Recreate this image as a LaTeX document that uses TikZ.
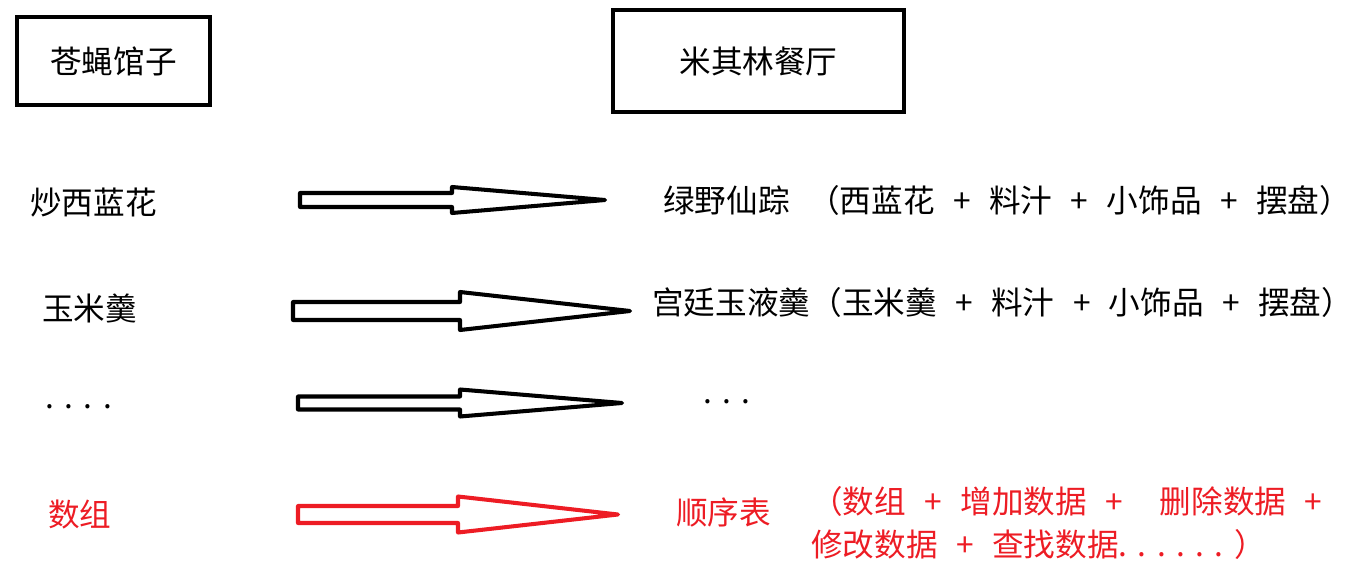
\documentclass[tikz,border=0pt]{standalone}
\usepackage{fontspec}
\setmainfont{Noto Sans CJK SC}[WordSpace=2.6]
\definecolor{paintred}{HTML}{ED1C24}
\newcommand{\dotk}{.\kern0.33em}
\tikzstyle{box}=[draw,line width=2.8pt,inner sep=0pt]
\tikzstyle{dish}=[anchor=west,inner sep=0pt,font=\fontsize{18}{24.4}\selectfont]
\tikzstyle{fat}=[draw,line width=2.3pt,line join=round]

\begin{document}
\begin{tikzpicture}[x=0.02cm,y=-0.02cm]
    \useasboundingbox (0,0) rectangle (1352,581);
    % titres
    \node[box,minimum width=3.86cm,minimum height=1.76cm] (fly) at (113.5,61) {};
    \node[dish,anchor=center] (flyt) at (fly.center) {苍蝇馆子};
    \node[box,minimum width=5.82cm,minimum height=2.04cm] (star) at (758.5,61) {};
    \node[dish,anchor=center] (start) at (star.center) {米其林餐厅};
    % plats
    \node[dish] (raw1) at (30,203) {炒西蓝花};
    \node[dish] (raw2) at (42,308) {玉米羹};
    \node[dish,anchor=base west] (raw3) at (45,408) {\dotk\dotk\dotk.};
    \node[dish,paintred] (raw4) at (48,515) {数组};
    \node[dish] (fine1) at (663,200) {绿野仙踪 （西蓝花 + 料汁 + 小饰品 + 摆盘）};
    \node[dish] (fine2) at (652,302) {宫廷玉液羹（玉米羹 + 料汁 + 小饰品 + 摆盘）};
    \node[dish,anchor=base west] (fine3) at (703,403) {\dotk\dotk.};
    \node[dish,paintred] (fine4) at (676,512) {顺序表};
    \node[dish,paintred,align=left] (ops) at (811,523) {（数组 + 增加数据 +\ \ 删除数据 +\\修改数据 + 查找数据\dotk\dotk\dotk\dotk\dotk\dotk）};
    % fleches
    \foreach \tx/\cy/\sh/\hx/\hh/\px/\col in {300/200/7/452/13/605/black, 293/311/9/460/19/630/black, 298/403/6.5/460/13.5/622/black, 298/514.5/8.5/458/18/618/paintred}
        \draw[fat,\col] (\tx,\cy-\sh) -- (\hx,\cy-\sh) -- (\hx,\cy-\hh) -- (\px,\cy) -- (\hx,\cy+\hh) -- (\hx,\cy+\sh) -- (\tx,\cy+\sh) -- cycle;
\end{tikzpicture}
\end{document}
